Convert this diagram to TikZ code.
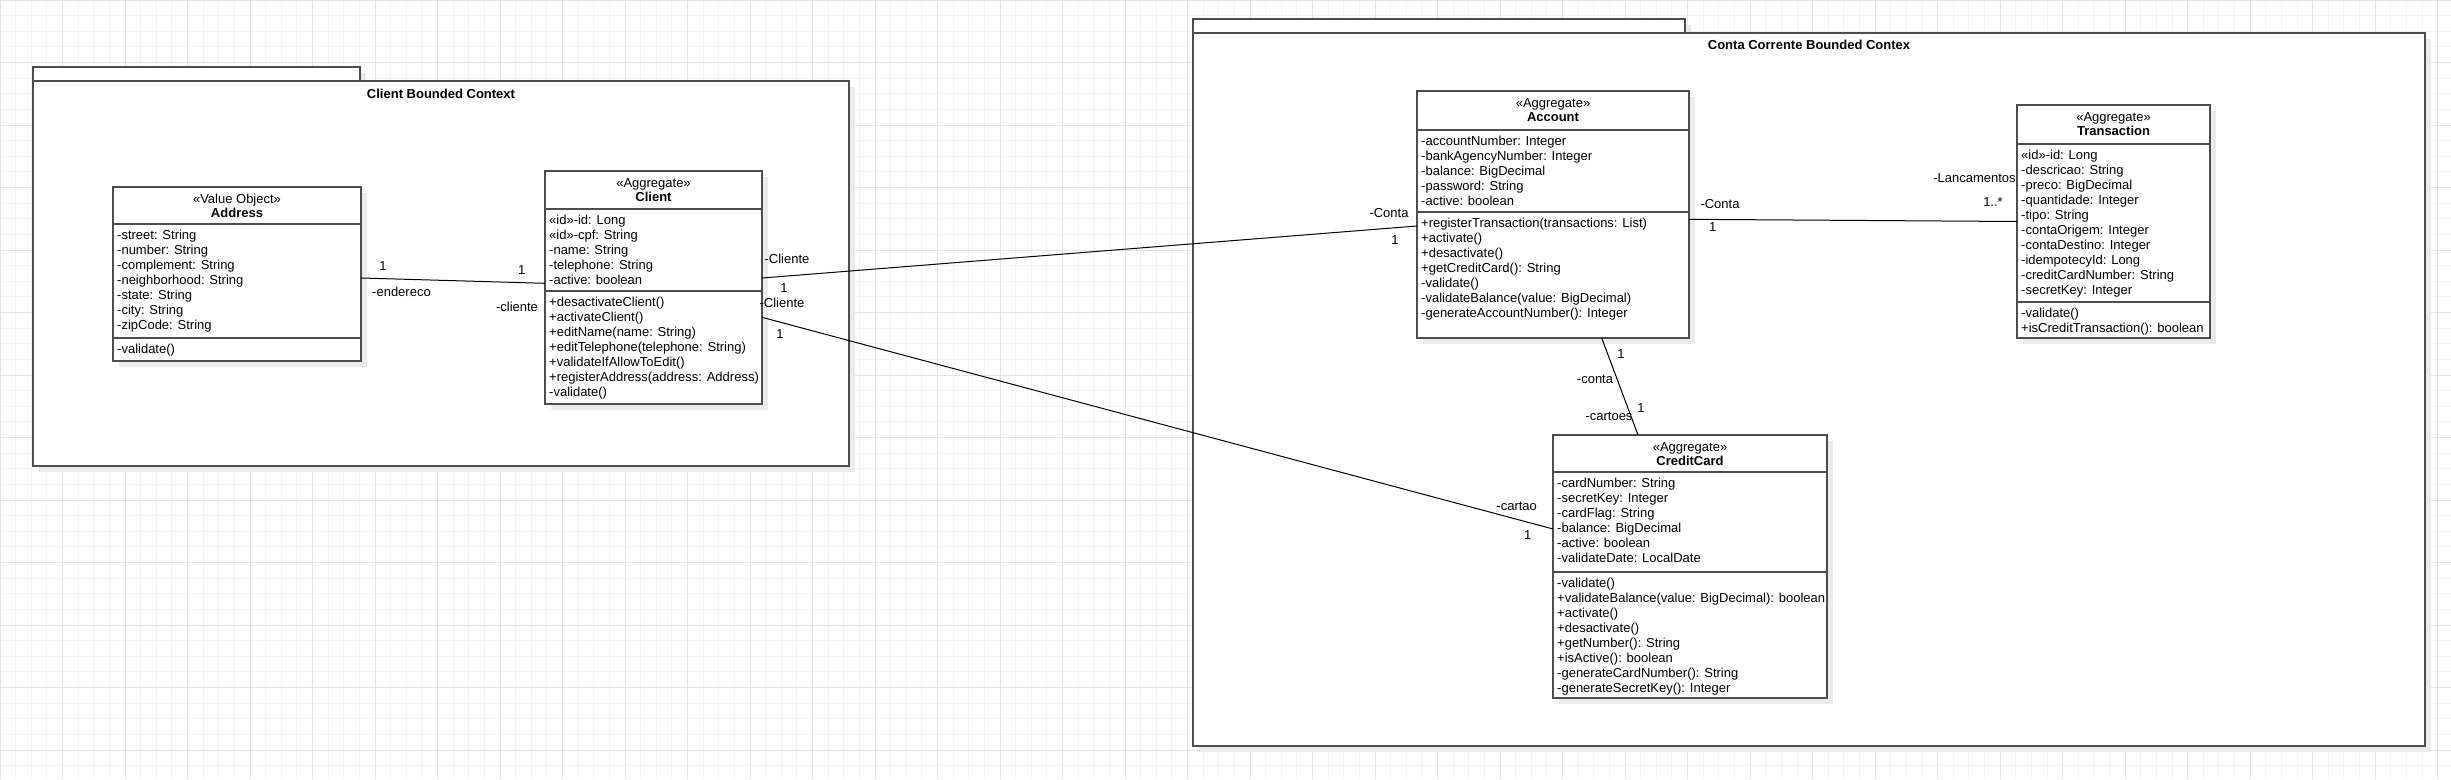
\documentclass[tikz,border=0pt]{standalone}
\usepackage{fontspec}
\setmainfont{Liberation Sans}
\usetikzlibrary{shadows}
\definecolor{boxline}{RGB}{77,77,77}
\definecolor{shadowgray}{RGB}{234,234,234}
\definecolor{gridminor}{RGB}{243,243,243}
\definecolor{gridmajor}{RGB}{228,228,228}

\tikzset{
  boxshadow/.style={drop shadow={shadow xshift=6pt, shadow yshift=-6pt, fill=shadowgray, opacity=1}},
  classbox/.style={draw=boxline, line width=1.3pt, fill=white, anchor=north west, inner sep=0pt, outer sep=0pt, boxshadow},
  pkgbox/.style={classbox},
  sepline/.style={draw=boxline, line width=1.3pt},
  member/.style={anchor=base west, inner sep=0pt, font=\fontsize{13}{15}\selectfont},
  stereo/.style={anchor=base, inner sep=0pt, font=\fontsize{13}{15}\selectfont},
  classname/.style={anchor=base, inner sep=0pt, font=\fontsize{13}{15}\selectfont\bfseries},
  pkgtitle/.style={inner sep=0pt, font=\fontsize{13}{15}\selectfont\bfseries},
  role/.style={inner sep=0pt, font=\fontsize{13}{15}\selectfont},
  assoc/.style={draw=black, line width=1pt},
}

\begin{document}
\begin{tikzpicture}[x=1pt, y=-1pt]
  % page and grid
  \fill[white] (0,0) rectangle (2451,779);
  \useasboundingbox (0,0) rectangle (2451,779);
  \foreach \gx in {0,15.625,...,2451} \draw[gridminor, line width=0.8pt] (\gx,0) -- (\gx,779);
  \foreach \gy in {0,15.625,...,779} \draw[gridminor, line width=0.8pt] (0,\gy) -- (2451,\gy);
  \foreach \gx in {0,62.5,...,2451} \draw[gridmajor, line width=0.8pt] (\gx,0) -- (\gx,779);
  \foreach \gy in {0,62.5,...,779} \draw[gridmajor, line width=0.8pt] (0,\gy) -- (2451,\gy);

  % bounded contexts
  \node[pkgbox, minimum width=327pt, minimum height=14pt] (clientctxtab) at (33,67) {};
  \node[pkgbox, minimum width=816pt, minimum height=385pt] (clientctx) at (33,81) {};
  \node[pkgtitle] (clientctxtitle) at (441,94) {Client Bounded Context};
  \node[pkgbox, minimum width=492pt, minimum height=14pt] (contactxtab) at (1193,19) {};
  \node[pkgbox, minimum width=1232pt, minimum height=713pt] (contactx) at (1193,33) {};
  \node[pkgtitle] (contactxtitle) at (1809,45) {Conta Corrente Bounded Contex};

  % Address
  \node[classbox, minimum width=248pt, minimum height=174pt] (address) at (113,187) {};
  \node[stereo] (addressst) at (237,203) {«Value Object»};
  \node[classname] (addressnm) at (237,217.5) {Address};
  \draw[sepline] (address.west |- 0,224) -- (address.east |- 0,224);
  \draw[sepline] (address.west |- 0,338) -- (address.east |- 0,338);
  \foreach \m [count=\i] in {{-street: String},{-number: String},{-complement: String},{-neighborhood: String},{-state: String},{-city: String},{-zipCode: String}}
    \node[member] (addressa\i) at (117,224+15*\i) {\m};
  \node[member] (addressm1) at (117,353) {-validate()};

  % Client
  \node[classbox, minimum width=217pt, minimum height=233pt] (client) at (545,171) {};
  \node[stereo] (clientst) at (653.5,187) {«Aggregate»};
  \node[classname] (clientnm) at (653.5,201.5) {Client};
  \draw[sepline] (client.west |- 0,209) -- (client.east |- 0,209);
  \draw[sepline] (client.west |- 0,291) -- (client.east |- 0,291);
  \foreach \m [count=\i] in {{«id»-id: Long},{«id»-cpf: String},{-name: String},{-telephone: String},{-active: boolean}}
    \node[member] (clienta\i) at (549,209+15*\i) {\m};
  \foreach \m [count=\i] in {{+desactivateClient()},{+activateClient()},{+editName(name: String)},{+editTelephone(telephone: String)},{+validateIfAllowToEdit()},{+registerAddress(address: Address)},{-validate()}}
    \node[member] (clientm\i) at (549,291+15*\i) {\m};

  % Account
  \node[classbox, minimum width=272pt, minimum height=247pt] (account) at (1417,91) {};
  \node[stereo] (accountst) at (1553,107) {«Aggregate»};
  \node[classname] (accountnm) at (1553,121.5) {Account};
  \draw[sepline] (account.west |- 0,130) -- (account.east |- 0,130);
  \draw[sepline] (account.west |- 0,212) -- (account.east |- 0,212);
  \foreach \m [count=\i] in {{-accountNumber: Integer},{-bankAgencyNumber: Integer},{-balance: BigDecimal},{-password: String},{-active: boolean}}
    \node[member] (accounta\i) at (1421,130+15*\i) {\m};
  \foreach \m [count=\i] in {{+registerTransaction(transactions: List)},{+activate()},{+desactivate()},{+getCreditCard(): String},{-validate()},{-validateBalance(value: BigDecimal)},{-generateAccountNumber(): Integer}}
    \node[member] (accountm\i) at (1421,212+15*\i) {\m};

  % Transaction
  \node[classbox, minimum width=193pt, minimum height=233pt] (transaction) at (2017,105) {};
  \node[stereo] (transactionst) at (2113.5,121) {«Aggregate»};
  \node[classname] (transactionnm) at (2113.5,135.5) {Transaction};
  \draw[sepline] (transaction.west |- 0,144) -- (transaction.east |- 0,144);
  \draw[sepline] (transaction.west |- 0,302) -- (transaction.east |- 0,302);
  \foreach \m [count=\i] in {{«id»-id: Long},{-descricao: String},{-preco: BigDecimal},{-quantidade: Integer},{-tipo: String},{-contaOrigem: Integer},{-contaDestino: Integer},{-idempotecyId: Long},{-creditCardNumber: String},{-secretKey: Integer}}
    \node[member] (transactiona\i) at (2021,144+15*\i) {\m};
  \foreach \m [count=\i] in {{-validate()},{+isCreditTransaction(): boolean}}
    \node[member] (transactionm\i) at (2021,302+15*\i) {\m};

  % CreditCard
  \node[classbox, minimum width=274pt, minimum height=263pt] (creditcard) at (1553,435) {};
  \node[stereo] (creditcardst) at (1690,451) {«Aggregate»};
  \node[classname] (creditcardnm) at (1690,465.5) {CreditCard};
  \draw[sepline] (creditcard.west |- 0,472) -- (creditcard.east |- 0,472);
  \draw[sepline] (creditcard.west |- 0,572) -- (creditcard.east |- 0,572);
  \foreach \m [count=\i] in {{-cardNumber: String},{-secretKey: Integer},{-cardFlag: String},{-balance: BigDecimal},{-active: boolean},{-validateDate: LocalDate}}
    \node[member] (creditcarda\i) at (1557,472+15*\i) {\m};
  \foreach \m [count=\i] in {{-validate()},{+validateBalance(value: BigDecimal): boolean},{+activate()},{+desactivate()},{+getNumber(): String},{+isActive(): boolean},{-generateCardNumber(): String},{-generateSecretKey(): Integer}}
    \node[member] (creditcardm\i) at (1557,572+15*\i) {\m};

  % associations
  \draw[assoc] ([yshift=-4pt]address.east) -- ([yshift=4.2pt]client.west);
  \draw[assoc] ([yshift=9.5pt]client.east) -- ([yshift=-11.5pt]account.west);
  \draw[assoc] ([yshift=-29.8pt]client.east) -- ([yshift=37.5pt]creditcard.west);
  \draw[assoc] ([yshift=-4.8pt]account.east) -- (transaction.west);
  \draw[assoc] ([xshift=48.7pt]account.south) -- ([xshift=-52pt]creditcard.north);

  % roles and multiplicities
  \node[role] (addrmult) at (383,266) {1};
  \node[role] (addrrole) at (401.5,291.7) {-endereco};
  \node[role] (clientmulta) at (521.7,270) {1};
  \node[role] (clientrolea) at (517,307) {-cliente};
  \node[role] (clientroleb) at (787,259) {-Cliente};
  \node[role] (clientmultb) at (784,288) {1};
  \node[role] (accountrolea) at (1389,213) {-Conta};
  \node[role] (accountmulta) at (1395,240) {1};
  \node[role] (clientrolec) at (782,303) {-Cliente};
  \node[role] (clientmultc) at (780,334) {1};
  \node[role] (cardrolea) at (1516.7,506) {-cartao};
  \node[role] (cardmulta) at (1527.7,535) {1};
  \node[role] (accountroleb) at (1720,204) {-Conta};
  \node[role] (accountmultb) at (1712.7,226.7) {1};
  \node[role] (transmult) at (1993,201.7) {1..*};
  \node[role] (transrole) at (1974.5,177.7) {-Lancamentos};
  \node[role] (accountmultc) at (1621,354) {1};
  \node[role] (accountrolec) at (1595,379) {-conta};
  \node[role] (cardroleb) at (1609,416.7) {-cartoes};
  \node[role] (cardmultb) at (1641,408) {1};
\end{tikzpicture}
\end{document}
